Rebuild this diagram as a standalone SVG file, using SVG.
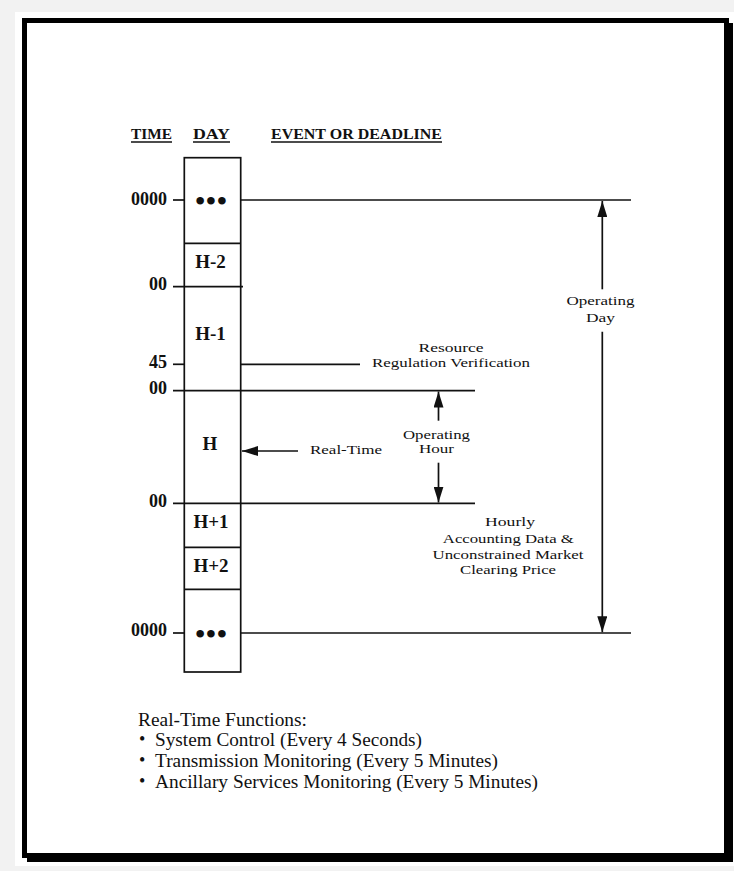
<svg xmlns="http://www.w3.org/2000/svg" width="734" height="871" viewBox="0 0 734 871">
<style>
.ln{stroke:#111;stroke-width:1.7;fill:none}
.hd{font-family:"Liberation Serif",serif;font-weight:bold;font-size:15.5px;fill:#111}
.tm{font-family:"Liberation Serif",serif;font-weight:bold;font-size:18px;fill:#111;text-anchor:end}
.hl{font-family:"Liberation Serif",serif;font-weight:bold;font-size:19px;fill:#111;text-anchor:middle}
.dt{font-family:"Liberation Serif",serif;font-weight:bold;font-size:28px;fill:#111;text-anchor:middle}
.lb{font-family:"Liberation Serif",serif;font-size:13.5px;fill:#111;text-anchor:middle}
.ft{font-family:"Liberation Serif",serif;font-size:18px;fill:#111}
</style>
<defs>
<marker id="ah" viewBox="0 0 16 10" refX="16" refY="5" markerWidth="16" markerHeight="10" markerUnits="userSpaceOnUse" orient="auto">
<path d="M0,0 L16,5 L0,10 Z" fill="#111"/>
</marker>
</defs>
<rect x="0" y="0" width="734" height="871" fill="#f2f2f2"/>
<rect x="15" y="12" width="725" height="854" fill="#ffffff"/>
<g id="frame">
<rect x="27" y="23" width="706" height="839" fill="#000"/>
<rect x="24.5" y="20.5" width="702" height="835" fill="#fff" stroke="#000" stroke-width="5"/>
</g>
<g id="headers">
<text class="hd" x="131" y="139" textLength="41" lengthAdjust="spacingAndGlyphs">TIME</text>
<text class="hd" x="193" y="139" textLength="37" lengthAdjust="spacingAndGlyphs">DAY</text>
<text class="hd" x="271" y="139" textLength="171" lengthAdjust="spacingAndGlyphs">EVENT OR DEADLINE</text>
<line class="ln" x1="131" y1="142" x2="172" y2="142" stroke-width="1.4"/>
<line class="ln" x1="193" y1="142" x2="230" y2="142" stroke-width="1.4"/>
<line class="ln" x1="271" y1="142" x2="442" y2="142" stroke-width="1.4"/>
</g>
<g id="times">
<text class="tm" x="167" y="205">0000</text>
<text class="tm" x="167" y="289.5">00</text>
<text class="tm" x="167" y="368">45</text>
<text class="tm" x="167" y="394">00</text>
<text class="tm" x="167" y="507">00</text>
<text class="tm" x="167" y="636">0000</text>
</g>
<g id="day-column">
<rect class="ln" x="184.3" y="157.7" width="56.4" height="514.3"/>
<text class="dt" x="211.5" y="210" letter-spacing="1">•••</text>
<text class="hl" x="210.5" y="268">H-2</text>
<text class="hl" x="210.5" y="340">H-1</text>
<text class="hl" x="210" y="450">H</text>
<text class="hl" x="211" y="528">H+1</text>
<text class="hl" x="211" y="571.7">H+2</text>
<text class="dt" x="211.5" y="643" letter-spacing="1">•••</text>
</g>
<g id="connectors">
<line class="ln" x1="173" y1="200" x2="184.3" y2="200"/>
<line class="ln" x1="240.7" y1="200" x2="631" y2="200"/>
<line class="ln" x1="184.3" y1="243.3" x2="240.7" y2="243.3"/>
<line class="ln" x1="173" y1="286.7" x2="243" y2="286.7"/>
<line class="ln" x1="173" y1="364.3" x2="184.3" y2="364.3"/>
<line class="ln" x1="240.7" y1="364.3" x2="360" y2="364.3"/>
<line class="ln" x1="173" y1="390.7" x2="475" y2="390.7"/>
<line class="ln" x1="173" y1="503.3" x2="475" y2="503.3"/>
<line class="ln" x1="184.3" y1="547.3" x2="240.7" y2="547.3"/>
<line class="ln" x1="184.3" y1="589.3" x2="240.7" y2="589.3"/>
<line class="ln" x1="173" y1="633" x2="184.3" y2="633"/>
<line class="ln" x1="240.7" y1="633" x2="631" y2="633"/>
<line class="ln" x1="298" y1="451" x2="242" y2="451" marker-end="url(#ah)"/>
<line class="ln" x1="438.5" y1="420.7" x2="438.5" y2="391.5" marker-end="url(#ah)"/>
<line class="ln" x1="438.5" y1="462.7" x2="438.5" y2="502.5" marker-end="url(#ah)"/>
<line class="ln" x1="602.3" y1="289.3" x2="602.3" y2="201" marker-end="url(#ah)"/>
<line class="ln" x1="602.3" y1="331.7" x2="602.3" y2="632.3" marker-end="url(#ah)"/>
</g>
<g id="labels">
<text class="lb" x="451" y="351.5" textLength="65" lengthAdjust="spacingAndGlyphs">Resource</text>
<text class="lb" x="451" y="367.3" textLength="158" lengthAdjust="spacingAndGlyphs">Regulation Verification</text>
<text class="lb" x="346" y="454" textLength="72" lengthAdjust="spacingAndGlyphs">Real-Time</text>
<text class="lb" x="436.5" y="439.3" textLength="67" lengthAdjust="spacingAndGlyphs">Operating</text>
<text class="lb" x="436.5" y="453.3" textLength="35" lengthAdjust="spacingAndGlyphs">Hour</text>
<text class="lb" x="600.5" y="305" textLength="68" lengthAdjust="spacingAndGlyphs">Operating</text>
<text class="lb" x="600.5" y="321.7" textLength="29" lengthAdjust="spacingAndGlyphs">Day</text>
<text class="lb" x="510" y="526" textLength="50" lengthAdjust="spacingAndGlyphs">Hourly</text>
<text class="lb" x="508.3" y="542.5" textLength="131" lengthAdjust="spacingAndGlyphs">Accounting Data &amp;</text>
<text class="lb" x="508" y="559" textLength="151" lengthAdjust="spacingAndGlyphs">Unconstrained Market</text>
<text class="lb" x="508" y="574" textLength="96" lengthAdjust="spacingAndGlyphs">Clearing Price</text>
</g>
<g id="functions">
<text class="ft" x="138" y="726" textLength="169" lengthAdjust="spacingAndGlyphs">Real-Time Functions:</text>
<text class="ft" x="139" y="745" font-size="12">•</text>
<text class="ft" x="155" y="746" textLength="267" lengthAdjust="spacingAndGlyphs">System Control (Every 4 Seconds)</text>
<text class="ft" x="139" y="766" font-size="12">•</text>
<text class="ft" x="155" y="767" textLength="343" lengthAdjust="spacingAndGlyphs">Transmission Monitoring (Every 5 Minutes)</text>
<text class="ft" x="139" y="787" font-size="12">•</text>
<text class="ft" x="155" y="788" textLength="383" lengthAdjust="spacingAndGlyphs">Ancillary Services Monitoring (Every 5 Minutes)</text>
</g>
</svg>
